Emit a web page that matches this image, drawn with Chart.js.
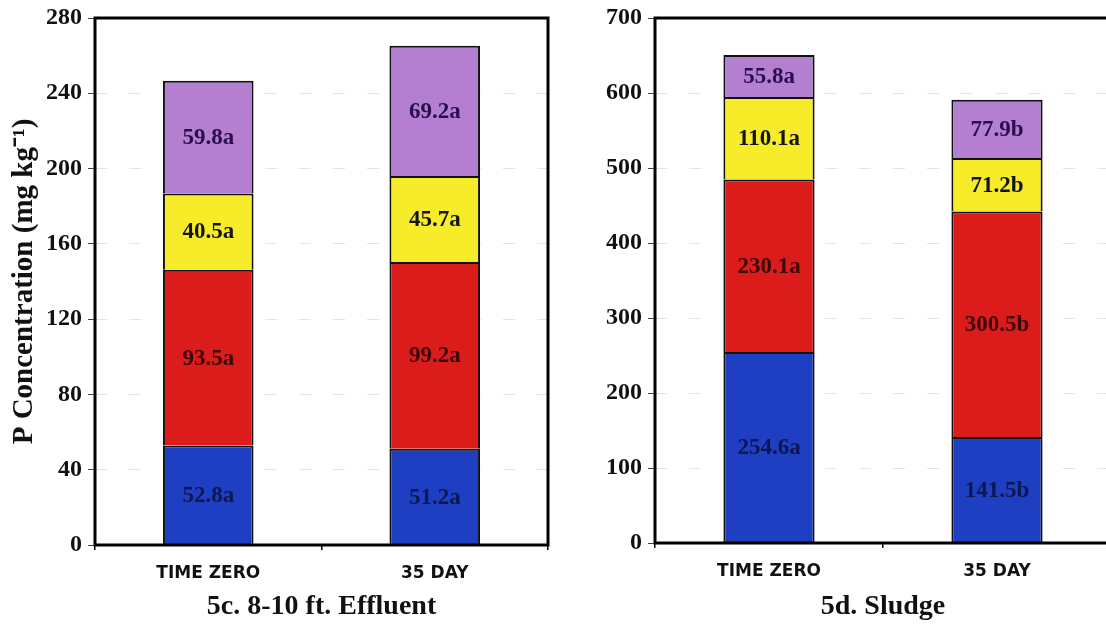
<!DOCTYPE html>
<html>
<head>
<meta charset="utf-8">
<script src="https://cdn.jsdelivr.net/npm/chart.js@4"></script>
<style>
  html, body { margin: 0; padding: 0; background: #fff; overflow: hidden; }
  body { width: 1106px; height: 624px; position: relative; }
  .panel { position: absolute; top: 0; width: 560px; height: 624px; }
  #p1 { left: 0; }
  #p2 { left: 560px; }
</style>
</head>
<body>
<div class="panel" id="p1"><canvas id="c1" width="560" height="624"></canvas></div>
<div class="panel" id="p2"><canvas id="c2" width="560" height="624"></canvas></div>
<script>
// Sampling times on the x axis
const categories = ['TIME ZERO', '35 DAY'];

// 5c. 8-10 ft. Effluent — P fractions (mg/kg), bottom to top
const effluentBlue   = [52.8, 51.2];
const effluentRed    = [93.5, 99.2];
const effluentYellow = [40.5, 45.7];
const effluentPurple = [59.8, 69.2];
const effluentBlueSig   = ['a', 'a'];
const effluentRedSig    = ['a', 'a'];
const effluentYellowSig = ['a', 'a'];
const effluentPurpleSig = ['a', 'a'];

// 5d. Sludge — P fractions (mg/kg), bottom to top
const sludgeBlue   = [254.6, 141.5];
const sludgeRed    = [230.1, 300.5];
const sludgeYellow = [110.1, 71.2];
const sludgePurple = [55.8, 77.9];
const sludgeBlueSig   = ['a', 'b'];
const sludgeRedSig    = ['a', 'b'];
const sludgeYellowSig = ['a', 'b'];
const sludgePurpleSig = ['a', 'b'];

// Axis tick ranges: min, max, step
const effluentTicks = [0, 280, 40];
const sludgeTicks   = [0, 700, 100];

const yTitle = 'P Concentration (mg kg\u207B\u00B9)';
const serif = '"Liberation Serif", "Times New Roman", serif';

const fills  = ['#1f3fc2', '#dc1c1a', '#f6ec2a', '#b47fd0'];
const inks   = ['#0e1650', '#3a0808', '#141414', '#2a0f4e'];

function makeSets(vals, sigs) {
  return vals.map((v, i) => ({
    data: v,
    sig: sigs[i],
    backgroundColor: fills[i],
    borderColor: '#111',
    borderWidth: 2,
    borderSkipped: 'start',
    inflateAmount: 0,
    barPercentage: 0.4,
    categoryPercentage: 1.0,
    ink: inks[i]
  }));
}

// Writes each segment's value and letter at the segment's centre
const segmentLabels = {
  id: 'segmentLabels',
  afterDatasetsDraw(chart) {
    const ctx = chart.ctx;
    ctx.save();
    ctx.font = 'bold 23px ' + serif;
    ctx.textAlign = 'center';
    ctx.textBaseline = 'middle';
    chart.data.datasets.forEach((ds, di) => {
      const meta = chart.getDatasetMeta(di);
      meta.data.forEach((bar, i) => {
        const y = (bar.y + bar.base) / 2;
        ctx.fillStyle = ds.ink;
        ctx.fillText(ds.data[i].toFixed(1) + ds.sig[i], bar.x, y + 1);
      });
    });
    ctx.restore();
  }
};

// Heavy black box around the plotting area
const frame = {
  id: 'frame',
  afterDraw(chart) {
    const a = chart.chartArea;
    const ctx = chart.ctx;
    ctx.save();
    ctx.strokeStyle = '#000';
    ctx.lineWidth = 3;
    ctx.strokeRect(a.left, a.top, a.right - a.left, a.bottom - a.top);
    ctx.restore();
  }
};

function build(id, sets, ticks, title, pad) {
  new Chart(document.getElementById(id), {
    type: 'bar',
    data: { labels: categories, datasets: sets },
    options: {
      responsive: false,
      animation: false,
      devicePixelRatio: 1,
      layout: { padding: { top: pad.top, right: pad.right, left: 0, bottom: 0 } },
      plugins: { legend: { display: false }, tooltip: { enabled: false } },
      scales: {
        x: {
          stacked: true,
          afterFit(s) { s.height = pad.xh; },
          grid: { drawOnChartArea: false, tickLength: 5, color: '#000', lineWidth: 1.5, offset: true },
          border: { display: false },
          ticks: { color: '#111', padding: 13, font: { family: '"DejaVu Sans", Verdana, sans-serif', weight: 'bold', size: 17 } },
          title: { display: true, text: title, color: '#111', padding: { top: 0, bottom: 0 },
                   font: { family: serif, weight: 'bold', size: 28 } }
        },
        y: {
          stacked: true,
          min: ticks[0], max: ticks[1],
          afterFit(s) { s.width = 95; },
          grid: { color: 'rgba(0,0,0,0.11)', lineWidth: 1, tickLength: 7, tickColor: '#444', tickWidth: 1 },
          border: { display: false, dash: [12, 22] },
          ticks: { stepSize: ticks[2], color: '#111', padding: 6,
                   font: { family: serif, weight: 'bold', size: 24, lineHeight: 1 } },
          title: { display: id === 'c1', text: yTitle, color: '#111', padding: { top: 7, bottom: 0 },
                   font: { family: serif, weight: 'bold', size: 29 } }
        }
      }
    },
    plugins: [segmentLabels, frame]
  });
}

build('c1',
  makeSets([effluentBlue, effluentRed, effluentYellow, effluentPurple],
           [effluentBlueSig, effluentRedSig, effluentYellowSig, effluentPurpleSig]),
  effluentTicks, '5c. 8-10 ft. Effluent', { top: 18, right: 12, xh: 79 });

build('c2',
  makeSets([sludgeBlue, sludgeRed, sludgeYellow, sludgePurple],
           [sludgeBlueSig, sludgeRedSig, sludgeYellowSig, sludgePurpleSig]),
  sludgeTicks, '5d. Sludge', { top: 18, right: 9, xh: 81 });
</script>
</body>
</html>
